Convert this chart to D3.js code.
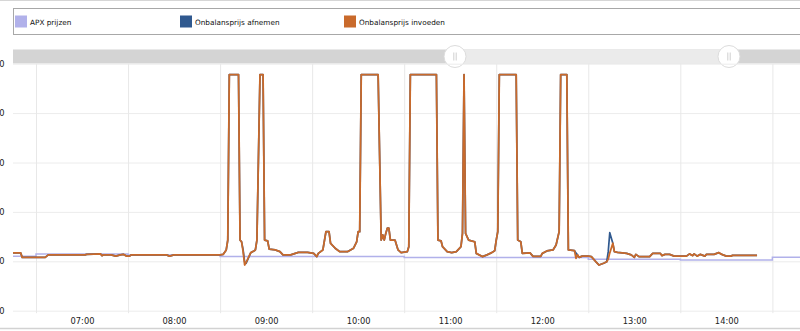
<!DOCTYPE html>
<html lang="nl">
<head>
<meta charset="utf-8">
<title>Onbalansprijzen</title>
<script src="https://cdn.jsdelivr.net/npm/d3@7"></script>
<style>
  body { margin: 0; background: #fff; }
  svg text { font-family: "DejaVu Sans", Verdana, sans-serif; }
</style>
</head>
<body>
<div id="chart"></div>
<script>
// series names + colours
var seriesNames = ["APX prijzen", "Onbalansprijs afnemen", "Onbalansprijs invoeden"];
var seriesColors = ["#b1b1ea", "#30598f", "#c96a2b"];

// minute timestamps for the imbalance prices
var tijden = [
  "06:45","06:50","06:51","07:06","07:08","07:32","07:33","07:42","07:43","07:44",
  "07:49","07:52","07:55","07:57","07:59","08:01","08:02","08:25","08:27","08:30",
  "09:00","09:02","09:04","09:05","09:06","09:12","09:13","09:14","09:15","09:16",
  "09:17","09:20","09:22","09:23","09:24","09:26","09:28","09:29","09:31","09:32",
  "09:36","09:39","09:41","09:46","09:51","09:57","10:01","10:03","10:04","10:07",
  "10:09","10:11","10:12","10:15","10:18","10:23","10:27","10:29","10:30","10:31",
  "10:32","10:43","10:45","10:46","10:47","10:48","10:49","10:50","10:51","10:54",
  "10:56","10:58","11:02","11:03","11:04","11:21","11:22","11:24","11:25","11:28",
  "11:31","11:34","11:37","11:38","11:39","11:40","11:42","11:46","11:47","11:51",
  "11:54","11:57","11:59","12:00","12:01","12:02","12:13","12:14","12:16","12:17",
  "12:22","12:24","12:29","12:30","12:33","12:37","12:39","12:41","12:42","12:46",
  "12:47","12:51","12:52","12:53","12:54","12:56","13:00","13:02","13:05","13:07",
  "13:10","13:12","13:13","13:14","13:16","13:17","13:19","13:25","13:28","13:30",
  "13:31","13:33","13:40","13:42","13:47","13:48","13:50","13:53","13:56","14:04",
  "14:06","14:08","14:09","14:11","14:13","14:16","14:17","14:22","14:25","14:27",
  "14:30","14:33","14:34","14:50"
];

// Onbalansprijs invoeden (EUR/MWh)
var invoeden = [
  34, 34, 16, 16, 26, 26, 28, 30, 23, 26,
  26, 21, 26, 28, 21, 21, 26, 26, 21, 26,
  26, 28, 46, 86, 756, 756, 86, 79, 39, -15,
  -3, 35, 42, 46, 86, 756, 756, 86, 83, 49,
  46, 39, 26, 26, 36, 36, 32, 19, 32, 46,
  120, 120, 73, 53, 39, 39, 53, 79, 120, 120,
  756, 756, 86, 107, 86, 113, 134, 134, 86, 86,
  46, 35, 39, 59, 756, 756, 86, 83, 59, 39,
  35, 39, 59, 113, 756, 113, 86, 79, 32, 19,
  26, 35, 43, 86, 120, 756, 756, 86, 79, 32,
  34, 20, 20, 32, 42, 46, 66, 120, 756, 756,
  46, 43, 12, 26, 16, 21, 21, 19, -2, -15,
  -8, -2, 9, 34, 73, 39, 36, 32, 26, 16,
  28, 19, 19, 32, 32, 23, 28, 28, 21, 21,
  30, 23, 30, 21, 28, 21, 28, 28, 35, 28,
  21, 21, 24, 24
];

// Onbalansprijs afnemen (EUR/MWh)
var afnemen = [
  34, 34, 16, 16, 26, 26, 28, 30, 23, 26,
  26, 21, 26, 28, 21, 21, 26, 26, 21, 26,
  26, 28, 46, 86, 756, 756, 86, 79, 46, -2,
  -8, 35, 42, 46, 86, 756, 756, 86, 83, 49,
  46, 39, 26, 26, 36, 36, 32, 19, 32, 46,
  120, 120, 73, 53, 39, 39, 53, 79, 120, 120,
  756, 756, 86, 107, 86, 113, 134, 134, 86, 86,
  46, 35, 39, 59, 756, 756, 86, 83, 59, 39,
  35, 39, 59, 113, 756, 113, 86, 79, 32, 19,
  26, 35, 43, 86, 120, 756, 756, 86, 79, 32,
  34, 20, 20, 32, 42, 46, 66, 120, 756, 756,
  46, 43, 33, 26, 16, 21, 21, 19, -2, -15,
  -8, -2, 39, 116, 73, 39, 36, 32, 26, 16,
  28, 19, 19, 32, 32, 23, 28, 28, 21, 21,
  30, 23, 30, 21, 28, 21, 28, 28, 35, 28,
  21, 21, 24, 24
];

// APX hourly prices
var apxUren = ["06:00","07:00","08:00","09:00","10:00","11:00","12:00","13:00","14:00","15:00","16:00"];
var apxPrijzen = [20, 30, 26, 19, 19, 15, 15, 8, 5, 16, 16];

var yTicks = [-200, 0, 200, 400, 600, 800];
var uurLijnen = ["07:00","08:00","09:00","10:00","11:00","12:00","13:00","14:00","15:00"];
var uurLabels = ["07:00","08:00","09:00","10:00","11:00","12:00","13:00","14:00",""];

var W = 800, H = 331;
var plotLeft = 13, plotRight = 800, plotTop = 63.7, plotBottom = 310.7;

var parse = d3.timeParse("%H:%M");

var x = d3.scaleTime()
    .domain([parse("06:45"), new Date(parse("15:00").getTime() + 18 * 60000)])
    .range([plotLeft, plotRight]);

var y = d3.scaleLinear()
    .domain([-200, 800])
    .range([plotBottom, plotTop]);

var svg = d3.select("#chart").append("svg")
    .attr("width", W)
    .attr("height", H);

// thin line at the top of the page
svg.append("line")
    .attr("x1", 0).attr("x2", W)
    .attr("y1", 0.5).attr("y2", 0.5)
    .attr("stroke", "#d6d6d6");

// legend box
svg.append("rect")
    .attr("x", 13.5).attr("y", 8.5)
    .attr("width", 800).attr("height", 26)
    .attr("fill", "#fff")
    .attr("stroke", "#a8a8a8");

var legendX = [15, 180, 344];
var legend = svg.selectAll(".legend")
    .data(seriesNames)
    .enter()
    .append("g")
    .attr("class", "legend")
    .attr("transform", function(d, i) { return "translate(" + legendX[i] + ",0)"; });

legend.append("rect")
    .attr("x", 0).attr("y", 15.5)
    .attr("width", 12).attr("height", 12)
    .attr("fill", function(d, i) { return seriesColors[i]; });

legend.append("text")
    .attr("x", 15).attr("y", 25.3)
    .attr("font-size", "7.3px")
    .attr("fill", "#111")
    .text(function(d) { return d; });

// scrollbar
svg.append("rect")
    .attr("x", plotLeft).attr("y", 49.5)
    .attr("width", plotRight - plotLeft).attr("height", 14)
    .attr("fill", "#d4d4d4");

var grip1 = 455, grip2 = 729;
svg.append("rect")
    .attr("x", grip1).attr("y", 49.5)
    .attr("width", grip2 - grip1).attr("height", 14)
    .attr("fill", "#ebebeb");

[grip1, grip2].forEach(function(gx) {
    svg.append("circle")
        .attr("cx", gx).attr("cy", 56.5).attr("r", 11)
        .attr("fill", "#fff")
        .attr("stroke", "#dcdcdc");
    [-1.2, 1.2].forEach(function(o) {
        svg.append("line")
            .attr("x1", gx + o).attr("x2", gx + o)
            .attr("y1", 52.5).attr("y2", 60.5)
            .attr("stroke", "#c4c4c4")
            .attr("stroke-width", 0.8);
    });
});

// y gridlines + labels (cut off by the left edge, as in the original)
var yAxis = svg.append("g")
    .attr("transform", "translate(" + plotLeft + ",0)")
    .call(d3.axisLeft(y)
        .tickValues(yTicks)
        .tickSize(-(plotRight - plotLeft))
        .tickPadding(8.5)
        .tickFormat(d3.format("d")));
yAxis.select(".domain").remove();
yAxis.selectAll("line").attr("stroke", "#ececec");
yAxis.selectAll("text")
    .attr("font-size", "8.3px")
    .attr("fill", "#222")
    .attr("font-family", "DejaVu Sans, sans-serif");

// x gridlines + labels centred in the hour
var xAxis = svg.append("g")
    .attr("transform", "translate(0," + (plotBottom + 2.5) + ")")
    .call(d3.axisBottom(x)
        .tickValues(uurLijnen.map(parse))
        .tickSize(-(plotBottom + 2.5 - plotTop))
        .tickPadding(5)
        .tickFormat(function(d, i) { return uurLabels[i]; }));
xAxis.select(".domain").remove();
xAxis.selectAll("line").attr("stroke", "#e8e8e8");
xAxis.selectAll("text")
    .attr("x", 46)
    .attr("font-size", "8.3px")
    .attr("fill", "#222")
    .attr("font-family", "DejaVu Sans, sans-serif");

// bottom border line
svg.append("line")
    .attr("x1", 0).attr("x2", W)
    .attr("y1", 328.5).attr("y2", 328.5)
    .attr("stroke", "#d2d2d2")
    .attr("stroke-width", 1.5);

// plot clip
svg.append("clipPath").attr("id", "plotClip")
    .append("rect")
    .attr("x", plotLeft).attr("y", plotTop)
    .attr("width", plotRight - plotLeft).attr("height", plotBottom - plotTop);

var plot = svg.append("g").attr("clip-path", "url(#plotClip)");

var apxData = apxUren.map(function(t, i) { return { t: parse(t), v: apxPrijzen[i] }; });
var afnData = tijden.map(function(t, i) { return { t: parse(t), v: afnemen[i] }; });
var invData = tijden.map(function(t, i) { return { t: parse(t), v: invoeden[i] }; });

var stepLine = d3.line()
    .curve(d3.curveStepAfter)
    .x(function(d) { return x(d.t); })
    .y(function(d) { return y(d.v); });

var line = d3.line()
    .x(function(d) { return x(d.t); })
    .y(function(d) { return y(d.v); });

plot.append("path")
    .datum(apxData)
    .attr("d", stepLine)
    .attr("fill", "none")
    .attr("stroke", seriesColors[0])
    .attr("stroke-width", 1.5);

plot.append("path")
    .datum(afnData)
    .attr("d", line)
    .attr("fill", "none")
    .attr("stroke", seriesColors[1])
    .attr("stroke-width", 1.7)
    .attr("stroke-linejoin", "round");

plot.append("path")
    .datum(invData)
    .attr("d", line)
    .attr("fill", "none")
    .attr("stroke", seriesColors[2])
    .attr("stroke-width", 1.8)
    .attr("stroke-linejoin", "round");
</script>
</body>
</html>
